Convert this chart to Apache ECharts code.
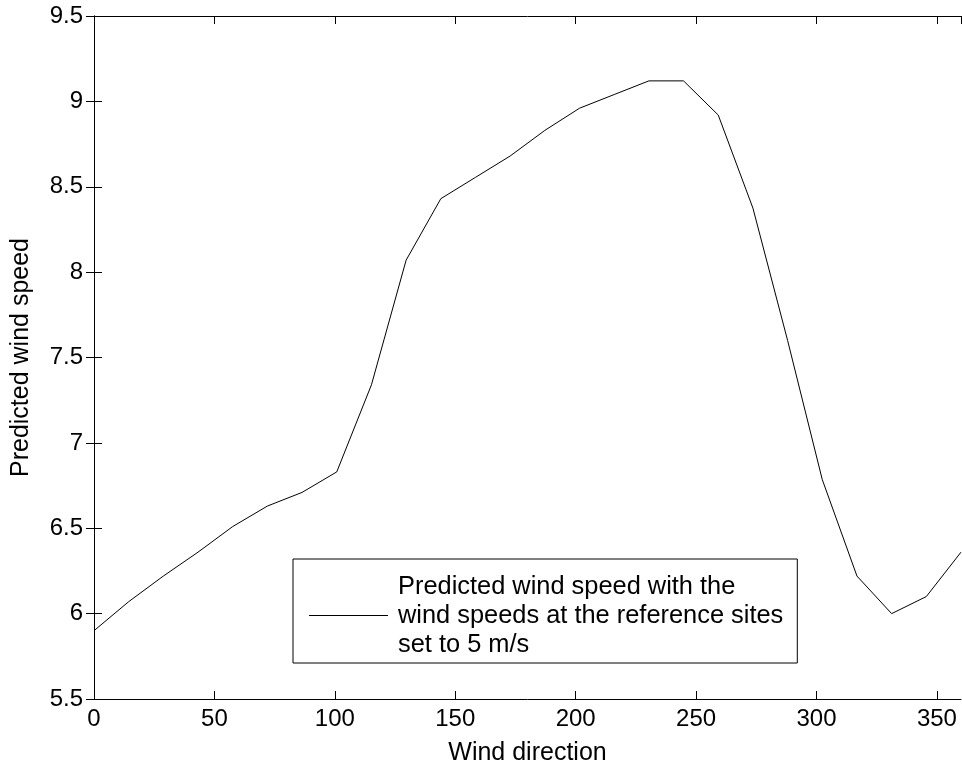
<!DOCTYPE html>
<html>
<head>
<meta charset="utf-8">
<script src="https://cdn.jsdelivr.net/npm/echarts@6/dist/echarts.min.js"></script>
<style>
html,body{margin:0;padding:0;background:#fff;}
#chart{width:962px;height:771px;}
</style>
</head>
<body>
<div id="chart"></div>
<script>
const directions = [0,14.4,28.8,43.2,57.6,72,86.4,100.8,115.2,129.6,144,158.4,172.8,187.2,201.6,216,230.4,244.8,259.2,273.6,288,302.4,316.8,331.2,345.6,360];
const speeds = [5.90,6.07,6.22,6.36,6.51,6.63,6.71,6.83,7.34,8.07,8.43,8.555,8.68,8.83,8.96,9.04,9.12,9.12,8.92,8.375,7.60,6.785,6.22,6.00,6.10,6.36];
const seriesName = 'Predicted wind speed with the\nwind speeds at the reference sites\nset to 5 m/s';
const xTitle = 'Wind direction';
const yTitle = 'Predicted wind speed';

const FONT = '"Liberation Sans", Arial, Helvetica, sans-serif';
const chart = echarts.init(document.getElementById('chart'), null, {renderer: 'canvas'});
const axisLine = {show: true, lineStyle: {color: '#000', width: 1}};
const tick = {show: true, inside: true, length: 8, lineStyle: {color: '#000', width: 1}};
chart.setOption({
  animation: false,
  backgroundColor: '#fff',
  textStyle: {fontFamily: FONT},
  grid: {left: 94, right: 1, top: 16, bottom: 71, containLabel: false},
  legend: {
    show: true,
    left: 293, top: 559,
    orient: 'vertical',
    backgroundColor: '#fff',
    borderColor: '#000', borderWidth: 1,
    padding: [13, 14, 4, 16],
    itemWidth: 79, itemHeight: 1,
    icon: 'rect',
    itemStyle: {color: '#000', borderWidth: 0},
    textStyle: {fontFamily: FONT, fontSize: 25.4, color: '#000', lineHeight: 29, padding: [0, 0, 0, 5]},
    data: [seriesName]
  },
  xAxis: [{
    type: 'value', min: 0, max: 360, interval: 50, position: 'bottom',
    name: xTitle, nameLocation: 'middle', nameGap: 42,
    nameTextStyle: {fontFamily: FONT, fontSize: 25, color: '#000'},
    axisLine: axisLine, axisTick: tick,
    axisLabel: {fontFamily: FONT, fontSize: 24, color: '#000', margin: 8, showMaxLabel: false},
    splitLine: {show: false}
  }, {
    type: 'value', min: 0, max: 360, interval: 50, position: 'top',
    axisLine: axisLine, axisTick: tick, axisLabel: {show: false}, splitLine: {show: false}
  }],
  yAxis: [{
    type: 'value', min: 5.5, max: 9.5, interval: 0.5, position: 'left',
    name: yTitle, nameLocation: 'middle', nameGap: 60,
    nameTextStyle: {fontFamily: FONT, fontSize: 25, color: '#000'},
    axisLine: axisLine, axisTick: tick,
    axisLabel: {fontFamily: FONT, fontSize: 24, color: '#000', margin: 11},
    splitLine: {show: false}
  }, {
    type: 'value', min: 5.5, max: 9.5, interval: 0.5, position: 'right',
    axisLine: axisLine, axisTick: tick, axisLabel: {show: false}, splitLine: {show: false}
  }],
  series: [{
    name: seriesName,
    type: 'line',
    xAxisIndex: 0, yAxisIndex: 0,
    data: directions.map((d, i) => [d, speeds[i]]),
    showSymbol: false, symbol: 'none',
    lineStyle: {color: '#000', width: 1},
    itemStyle: {color: '#000'},
    emphasis: {disabled: true}
  }]
});
</script>
</body>
</html>
